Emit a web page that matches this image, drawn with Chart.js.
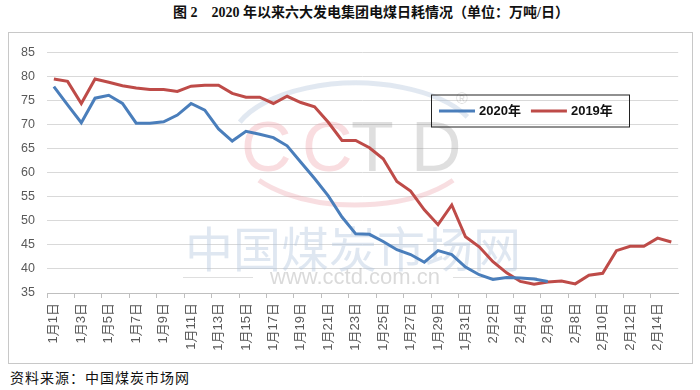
<!DOCTYPE html>
<html>
<head>
<meta charset="utf-8">
<script src="https://cdn.jsdelivr.net/npm/chart.js@4.4.1/dist/chart.umd.min.js"></script>
<style>
  body { margin: 0; background: #fff; width: 700px; height: 390px; position: relative; overflow: hidden; }
  #title { position: absolute; left: 0; top: 4px; width: 742px; text-align: center; font: bold 14px 'Liberation Serif', 'Noto Sans CJK SC', serif; color: #111; line-height: 18px; white-space: pre; }
  #box { position: absolute; left: 8px; top: 32px; width: 683px; height: 330px; border: 1px solid #c8c8c8; }
  #source { position: absolute; left: 10px; top: 368px; font: 14px 'Noto Sans CJK SC', sans-serif; letter-spacing: 1px; color: #111; line-height: 18px; }
</style>
</head>
<body>
<div id="title">图 2　2020 年以来六大发电集团电煤日耗情况（单位：万吨/日）</div>
<div id="box"><canvas id="coalChart" width="683" height="330"></canvas></div>
<div id="source">资料来源：中国煤炭市场网</div>
<script>
  const days = [
    '1月1日', '1月2日', '1月3日', '1月4日', '1月5日', '1月6日', '1月7日', '1月8日',
    '1月9日', '1月10日', '1月11日', '1月12日', '1月13日', '1月14日', '1月15日', '1月16日',
    '1月17日', '1月18日', '1月19日', '1月20日', '1月21日', '1月22日', '1月23日', '1月24日',
    '1月25日', '1月26日', '1月27日', '1月28日', '1月29日', '1月30日', '1月31日',
    '2月1日', '2月2日', '2月3日', '2月4日', '2月5日', '2月6日', '2月7日', '2月8日',
    '2月9日', '2月10日', '2月11日', '2月12日', '2月13日', '2月14日', '2月15日'
  ];

  // 万吨/日
  const burn2020 = [
    77.9, 74.1, 70.4, 75.5, 76.1, 74.4, 70.3, 70.3, 70.6, 72.0,
    74.4, 73.0, 69.1, 66.6, 68.6, 68.0, 67.3, 65.6, 62.2, 58.8,
    55.2, 50.8, 47.3, 47.2, 45.7, 44.0, 43.0, 41.4, 43.8, 43.0,
    40.4, 38.8, 37.8, 38.2, 38.1, 37.9, 37.4,
    null, null, null, null, null, null, null, null, null
  ];
  const burn2019 = [
    79.5, 79.0, 74.4, 79.5, 78.8, 78.1, 77.6, 77.3, 77.3, 76.9,
    78.0, 78.2, 78.2, 76.5, 75.7, 75.7, 74.4, 75.9, 74.6, 73.7,
    70.5, 66.7, 66.7, 65.2, 62.9, 58.2, 56.2, 52.3, 49.2, 53.3,
    46.7, 44.6, 41.5, 39.2, 37.4, 36.8, 37.3, 37.5, 36.9, 38.7,
    39.1, 43.8, 44.7, 44.7, 46.4, 45.6
  ];
  const yTicks = [35, 40, 45, 50, 55, 60, 65, 70, 75, 80, 85];

  const fontFamily = "'Liberation Sans', 'Noto Sans CJK SC', sans-serif";

  // faint CCTD watermark behind the lines
  const watermark = {
    id: 'watermark',
    beforeDatasetsDraw(chart) {
      const ctx = chart.ctx;
      ctx.save();
      // logo arcs
      ctx.lineWidth = 5;
      ctx.strokeStyle = 'rgba(170,190,215,0.35)';
      ctx.beginPath();
      ctx.ellipse(347, 112, 125, 62, 0, Math.PI * 1.12, Math.PI * 1.85);
      ctx.stroke();
      ctx.strokeStyle = 'rgba(235,160,170,0.35)';
      ctx.beginPath();
      ctx.ellipse(347, 112, 120, 60, 0, Math.PI * 0.2, Math.PI * 0.8);
      ctx.stroke();
      // letters, spaced like the logo
      ctx.font = "70px 'Liberation Sans', sans-serif";
      ctx.textBaseline = 'alphabetic';
      ctx.fillStyle = 'rgba(235,150,160,0.32)';
      ctx.fillText('C', 232, 138);
      ctx.fillText('C', 293, 138);
      ctx.fillStyle = 'rgba(150,150,150,0.3)';
      ctx.fillText('T', 342, 138);
      ctx.fillText('D', 402, 138);
      ctx.font = "16px 'Liberation Sans', sans-serif";
      ctx.fillText('®', 447, 71);
      // chinese name and url
      ctx.font = "48px 'Noto Sans CJK SC', sans-serif";
      ctx.textAlign = 'center';
      ctx.textBaseline = 'middle';
      ctx.fillStyle = 'rgba(175,195,220,0.4)';
      ctx.fillText('中国煤炭市场网', 344, 216);
      ctx.font = "22px 'Liberation Sans', sans-serif";
      ctx.fillStyle = 'rgba(150,150,150,0.35)';
      ctx.fillText('www.cctd.com.cn', 346, 245);
      ctx.strokeStyle = 'rgba(150,150,150,0.3)';
      ctx.lineWidth = 1;
      ctx.beginPath();
      ctx.moveTo(174, 244.5); ctx.lineTo(244, 244.5);
      ctx.moveTo(444, 244.5); ctx.lineTo(528, 244.5);
      ctx.stroke();
      ctx.restore();
    }
  };

  // boxed legend inside the plot, like the excel one
  const boxLegend = {
    id: 'boxLegend',
    afterDraw(chart) {
      const { ctx, chartArea } = chart;
      const x = chartArea.left + 384, y = chartArea.top + 42, w = 198, h = 32;
      ctx.save();
      ctx.strokeStyle = '#222';
      ctx.lineWidth = 1;
      ctx.strokeRect(x + 0.5, y + 0.5, w, h);
      ctx.font = "bold 13px " + fontFamily;
      ctx.textBaseline = 'middle';
      let cx = x + 8;
      const cy = y + h / 2 + 0.5;
      chart.data.datasets.forEach(ds => {
        ctx.strokeStyle = ds.borderColor;
        ctx.lineWidth = 3;
        ctx.beginPath();
        ctx.moveTo(cx, cy);
        ctx.lineTo(cx + 36, cy);
        ctx.stroke();
        ctx.fillStyle = '#111';
        ctx.fillText(ds.label, cx + 40, cy);
        cx += 40 + ctx.measureText(ds.label).width + 10;
      });
      ctx.restore();
    }
  };

  const ctx = document.getElementById('coalChart').getContext('2d');

  const coalChart = new Chart(ctx, {
    type: 'line',
    data: {
      labels: days,
      datasets: [
        {
          label: '2020年',
          data: burn2020,
          borderColor: '#4a7ebb',
          borderWidth: 3,
          pointRadius: 0,
          tension: 0
        },
        {
          label: '2019年',
          data: burn2019,
          borderColor: '#be4b48',
          borderWidth: 3,
          pointRadius: 0,
          tension: 0
        }
      ]
    },
    options: {
      responsive: false,
      animation: false,
      layout: { padding: { top: 19, right: 9, bottom: 0, left: 0 } },
      plugins: {
        legend: { display: false },
        tooltip: { enabled: false }
      },
      scales: {
        x: {
          offset: true,
          afterFit: scale => { scale.height = 70; },
          grid: {
            offset: true,
            drawOnChartArea: false,
            drawTicks: true,
            tickLength: 5,
            color: c => (c.index % 2 === 0 ? '#bfbfbf' : 'rgba(0,0,0,0)')
          },
          border: { display: true, color: '#bfbfbf' },
          ticks: {
            autoSkip: false,
            maxRotation: 90,
            minRotation: 90,
            padding: 5,
            color: '#595959',
            font: { family: fontFamily, size: 13 },
            callback: function(value, index) {
              return index % 2 === 0 ? this.getLabelForValue(value) : '';
            }
          }
        },
        y: {
          min: 35,
          max: 85,
          afterFit: scale => { scale.width = 38; },
          afterBuildTicks: scale => { scale.ticks = yTicks.map(v => ({ value: v })); },
          grid: { color: '#d9d9d9', drawTicks: false },
          border: { display: false },
          ticks: {
            padding: 12,
            color: '#595959',
            font: { family: fontFamily, size: 12.5 }
          }
        }
      }
    },
    plugins: [watermark, boxLegend]
  });
</script>
</body>
</html>
